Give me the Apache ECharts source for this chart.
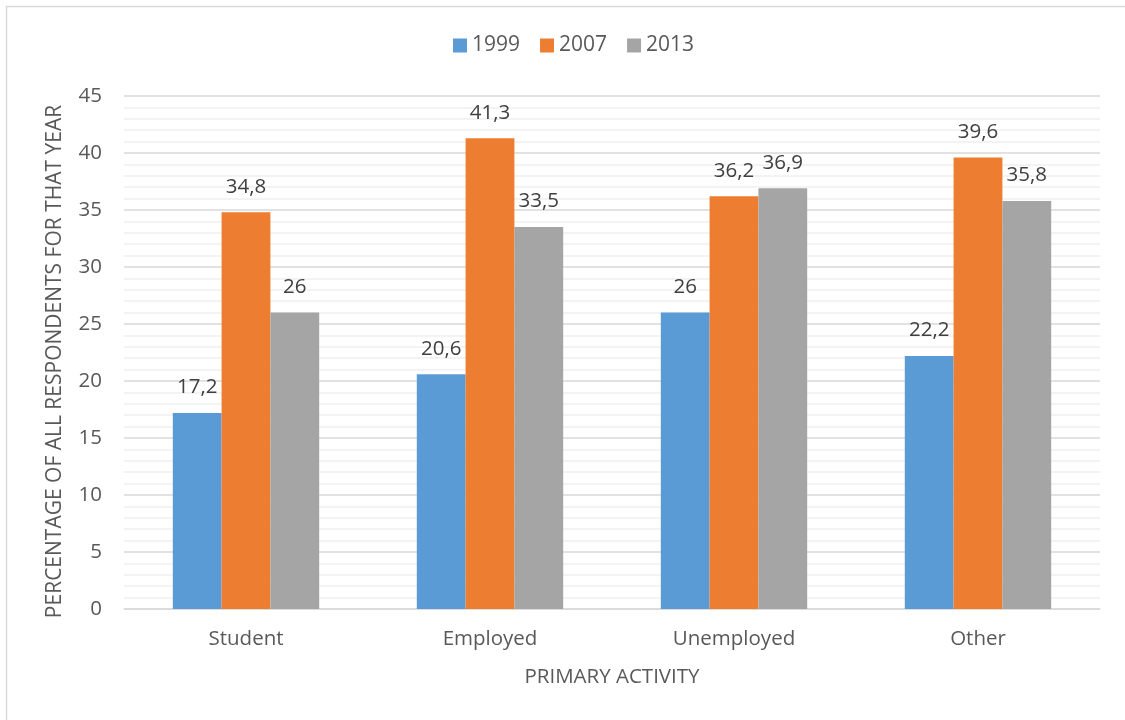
<!DOCTYPE html>
<html>
<head>
<meta charset="utf-8">
<script src="https://cdn.jsdelivr.net/npm/echarts@6/dist/echarts.min.js"></script>
<style>
  html, body { margin: 0; padding: 0; background: #fff; }
  #chart { width: 1125px; height: 720px; }
</style>
</head>
<body>
<div id="chart"></div>
<script>
// Share of respondents by primary activity, per survey year
const categories = ['Student', 'Employed', 'Unemployed', 'Other'];
const years = ['1999', '2007', '2013'];
const values1999 = [17.2, 20.6, 26, 22.2];
const values2007 = [34.8, 41.3, 36.2, 39.6];
const values2013 = [26, 33.5, 36.9, 35.8];
const yTicks = [0, 5, 10, 15, 20, 25, 30, 35, 40, 45];

const colors = ['#5B9BD5', '#ED7D31', '#A5A5A5'];
const FONT = 'Open Sans';
const TEXT = '#595959';
const SIZE = 20.5;

const fmt = v => String(v).replace('.', ',');

function barSeries(name, data, color) {
  return {
    name: name,
    type: 'bar',
    data: data,
    barGap: '0%',
    barCategoryGap: '40%',
    itemStyle: { color: color },
    label: {
      show: true,
      position: 'top',
      distance: 15,
      color: '#404040',
      fontFamily: FONT,
      fontSize: SIZE,
      formatter: p => fmt(p.value)
    }
  };
}

const chart = echarts.init(document.getElementById('chart'));
chart.setOption({
  animation: false,
  textStyle: { fontFamily: FONT },
  graphic: [{
    type: 'rect',
    shape: { x: 6.5, y: 6.5, width: 1130, height: 730 },
    style: { fill: 'none', stroke: '#D9D9D9', lineWidth: 1.5 },
    silent: true
  }],
  legend: {
    data: years,
    top: 30,
    left: 448,
    itemWidth: 14,
    itemHeight: 14,
    itemGap: 20,
    icon: 'rect',
    textStyle: { color: TEXT, fontSize: 21, fontFamily: FONT }
  },
  grid: { left: 124, right: 25, top: 96, bottom: 111, containLabel: false },
  xAxis: {
    type: 'category',
    data: categories,
    name: 'PRIMARY ACTIVITY',
    nameLocation: 'middle',
    nameGap: 58,
    nameTextStyle: { color: TEXT, fontSize: SIZE, fontFamily: FONT },
    axisLine: { lineStyle: { color: '#D9D9D9', width: 1.5 } },
    axisTick: { show: false },
    axisLabel: { color: TEXT, fontSize: SIZE, fontFamily: FONT, margin: 20 }
  },
  yAxis: {
    type: 'value',
    min: yTicks[0],
    max: yTicks[yTicks.length - 1],
    interval: 5,
    name: 'PERCENTAGE OF ALL RESPONDENTS FOR THAT YEAR',
    nameLocation: 'middle',
    nameRotate: 90,
    nameGap: 58,
    nameTextStyle: { color: TEXT, fontSize: 21, fontFamily: FONT, padding: [0, 18, 0, 0] },
    axisLine: { show: false },
    axisTick: { show: false },
    axisLabel: { color: TEXT, fontSize: SIZE, fontFamily: FONT, margin: 22 },
    splitLine: { lineStyle: { color: '#D9D9D9', width: 1.5 } },
    minorTick: { show: false, splitNumber: 5 },
    minorSplitLine: { show: true, lineStyle: { color: '#F0F0F0', width: 1.5 } }
  },
  series: [
    barSeries(years[0], values1999, colors[0]),
    barSeries(years[1], values2007, colors[1]),
    barSeries(years[2], values2013, colors[2])
  ]
});
</script>
</body>
</html>
